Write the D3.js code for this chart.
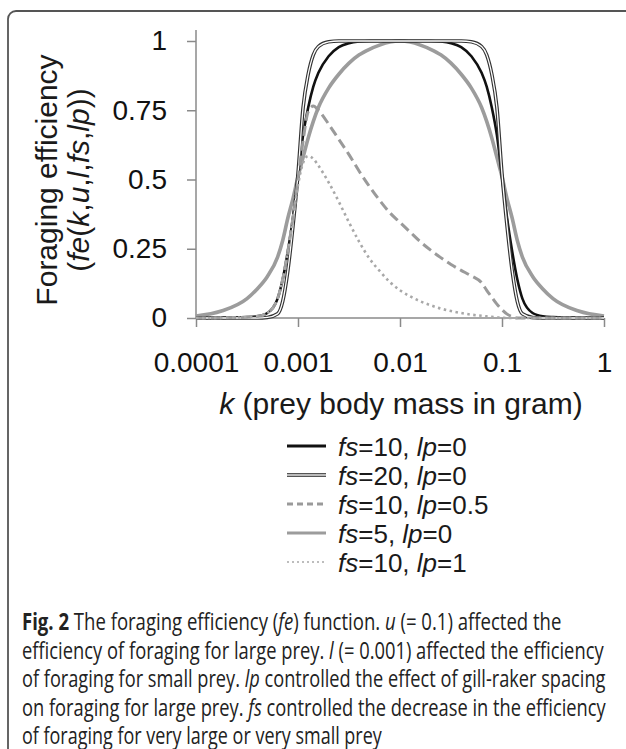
<!DOCTYPE html>
<html>
<head>
<meta charset="utf-8">
<script src="https://cdn.jsdelivr.net/npm/d3@7"></script>
<style>
    body { margin: 0; background: #fff; }
    svg { display: block; }
</style>
</head>
<body>
<div id="chart"></div>
<script>
// log10 of prey body mass k (gram) at which the curves were read
const logK = [-4, -3.75, -3.5, -3.4, -3.3, -3.2, -3.15, -3.1, -3.05, -3, -2.95, -2.9, -2.85, -2.8, -2.7, -2.6,
    -2.5, -2.4, -2.3, -2.2, -2.1, -2, -1.9, -1.8, -1.7, -1.6, -1.5, -1.4, -1.3, -1.2, -1.15, -1.1, -1.05,
    -1, -0.95, -0.9, -0.85, -0.8, -0.7, -0.6, -0.5, -0.25, 0];

// foraging efficiency for each parameter set
const feFs10Lp0 = [0, 0.0005, 0.003, 0.006, 0.018, 0.07, 0.14, 0.24, 0.36, 0.51, 0.66, 0.76, 0.835, 0.885, 0.945, 0.978,
    0.992, 0.998, 1, 1, 1, 1, 1, 1, 1, 0.998, 0.992, 0.978, 0.945, 0.885, 0.835, 0.76, 0.66,
    0.51, 0.36, 0.24, 0.14, 0.07, 0.018, 0.006, 0.003, 0.0005, 0];
const feFs20Lp0 = [0, 0, 0, 0, 0.002, 0.015, 0.06, 0.17, 0.33, 0.52, 0.76, 0.88, 0.95, 0.98, 0.997, 1,
    1, 1, 1, 1, 1, 1, 1, 1, 1, 1, 1, 1, 0.997, 0.98, 0.95, 0.88, 0.76,
    0.52, 0.33, 0.17, 0.06, 0.015, 0.002, 0, 0, 0, 0];
const feFs10Lp05 = [0, 0.0005, 0.003, 0.006, 0.018, 0.07, 0.14, 0.24, 0.36, 0.5, 0.64, 0.745, 0.765, 0.75, 0.7, 0.645,
    0.59, 0.53, 0.475, 0.425, 0.38, 0.345, 0.31, 0.275, 0.245, 0.218, 0.193, 0.172, 0.152, 0.127, 0.1, 0.075, 0.05,
    0.03, 0.014, 0.005, 0, 0, 0, 0, 0, 0, 0];
const feFs5Lp0 = [0.007, 0.025, 0.07, 0.105, 0.15, 0.22, 0.28, 0.36, 0.43, 0.51, 0.58, 0.65, 0.71, 0.76, 0.83, 0.88,
    0.92, 0.95, 0.97, 0.985, 0.996, 1, 0.996, 0.985, 0.97, 0.95, 0.92, 0.88, 0.83, 0.76, 0.71, 0.65, 0.58,
    0.51, 0.43, 0.36, 0.28, 0.22, 0.15, 0.105, 0.07, 0.025, 0.007];
const feFs10Lp1 = [0, 0.0005, 0.003, 0.006, 0.018, 0.07, 0.14, 0.24, 0.36, 0.48, 0.56, 0.585, 0.575, 0.55, 0.49, 0.42,
    0.345, 0.275, 0.215, 0.17, 0.13, 0.1, 0.078, 0.06, 0.046, 0.034, 0.025, 0.018, 0.012, 0.008, 0.006, 0.004, 0.002,
    0.001, 0, 0, 0, 0, 0, 0, 0, 0, 0];

// legend parameters, same order as the series
const legendFs = ['10', '20', '10', '5', '10'];
const legendLp = ['0', '0', '0.5', '0', '1'];

// axis ticks
const xTicks = [0.0001, 0.001, 0.01, 0.1, 1];
const xTickLabels = ['0.0001', '0.001', '0.01', '0.1', '1'];
const yTicks = [0, 0.25, 0.5, 0.75, 1];
const yTickLabels = ['0', '0.25', '0.5', '0.75', '1'];

// line styles
const styles = [
    { values: feFs10Lp0, color: '#111', width: 2.6 },
    { values: feFs20Lp0, color: '#333', width: 3.6, inner: '#fff', innerWidth: 1.3 },
    { values: feFs10Lp05, color: '#9a9a9a', width: 3, dash: '10,5' },
    { values: feFs5Lp0, color: '#9c9c9c', width: 3.6 },
    { values: feFs10Lp1, color: '#a8a8a8', width: 2.6, dash: '2.5,3.5' }
];
// order in which lines are drawn (gray fs=5 underneath)
const drawOrder = [3, 0, 1, 2, 4];

const W = 626, H = 749;
const font = '"Liberation Sans", Arial, sans-serif';

const svg = d3.select('#chart').append('svg')
    .attr('width', W)
    .attr('height', H)
    .style('font-family', font);

// frame around the figure
svg.append('rect')
    .attr('x', 8).attr('y', 11)
    .attr('width', 660).attr('height', 800)
    .attr('rx', 8)
    .attr('fill', 'none')
    .attr('stroke', '#555')
    .attr('stroke-width', 1.8);

// scales
const x = d3.scaleLog().domain([0.0001, 1]).range([196, 604]);
const y = d3.scaleLinear().domain([0, 1]).range([318, 41]);

// axes
const axisColor = '#8a8a8a';
const xAxis = svg.append('g')
    .attr('transform', 'translate(0,318)')
    .call(d3.axisBottom(x).tickValues(xTicks).tickFormat((d, i) => xTickLabels[i]).tickSize(9).tickPadding(25));
const yAxis = svg.append('g')
    .attr('transform', 'translate(196,0)')
    .call(d3.axisLeft(y).tickValues(yTicks).tickFormat((d, i) => yTickLabels[i]).tickSize(9).tickPadding(20));

[xAxis, yAxis].forEach(g => {
    g.select('.domain').remove();
    g.selectAll('line').attr('stroke', axisColor).attr('stroke-width', 1.5);
    g.selectAll('text').attr('fill', '#111').style('font-family', font).style('font-size', '28px');
});

svg.append('line')
    .attr('x1', 196).attr('x2', 196).attr('y1', 30).attr('y2', 318)
    .attr('stroke', axisColor).attr('stroke-width', 1.5);
svg.append('line')
    .attr('x1', 196).attr('x2', 604).attr('y1', 318).attr('y2', 318)
    .attr('stroke', axisColor).attr('stroke-width', 1.5);

// curves
const line = d3.line()
    .x((d, i) => x(Math.pow(10, logK[i])))
    .y(d => y(d))
    .curve(d3.curveMonotoneX);

drawOrder.forEach(idx => {
    const s = styles[idx];
    const p = svg.append('path')
        .datum(s.values)
        .attr('fill', 'none')
        .attr('stroke', s.color)
        .attr('stroke-width', s.width)
        .attr('stroke-linecap', 'butt')
        .attr('d', line);
    if (s.dash) p.attr('stroke-dasharray', s.dash);
    if (s.inner) {
        svg.append('path')
            .datum(s.values)
            .attr('fill', 'none')
            .attr('stroke', s.inner)
            .attr('stroke-width', s.innerWidth)
            .attr('d', line);
    }
});

// y axis title
const yTitle = svg.append('g')
    .attr('transform', 'translate(0,180) rotate(-90)')
    .style('font-size', '30px')
    .attr('fill', '#1a1a1a')
    .attr('text-anchor', 'middle');
yTitle.append('text').attr('y', 57).text('Foraging efficiency');
const yt2 = yTitle.append('text').attr('y', 89);
[['(', false], ['fe', true], ['(', false], ['k', true], [',', false], ['u', true], [',', false],
 ['l', true], [',', false], ['fs', true], [',', false], ['lp', true], ['))', false]].forEach(([t, it]) => {
    yt2.append('tspan').text(t).style('font-style', it ? 'italic' : 'normal');
});

// x axis title
const xTitle = svg.append('text')
    .attr('x', 401).attr('y', 414)
    .attr('text-anchor', 'middle')
    .attr('fill', '#1a1a1a')
    .style('font-size', '30px');
xTitle.append('tspan').text('k').style('font-style', 'italic');
xTitle.append('tspan').text(' (prey body mass in gram)');

// legend
const legend = svg.append('g');
styles.forEach((s, i) => {
    const cy = 446 + i * 29;
    const g = legend.append('g').attr('transform', `translate(0,${cy})`);
    const l = g.append('line')
        .attr('x1', 287).attr('x2', 326)
        .attr('stroke', s.inner ? '#555' : s.color)
        .attr('stroke-width', s.inner ? 4 : (s.dash && s.dash.startsWith('2.5') ? 1.6 : 3));
    if (s.dash) l.attr('stroke-dasharray', s.dash.startsWith('2.5') ? '2,3' : '6,4');
    if (s.inner) {
        g.append('line').attr('x1', 287).attr('x2', 326)
            .attr('stroke', '#ddd').attr('stroke-width', 1.6);
    }
    const t = g.append('text')
        .attr('x', 338).attr('y', 9.5)
        .attr('fill', '#1a1a1a')
        .style('font-size', '26px');
    t.append('tspan').text('fs').style('font-style', 'italic');
    t.append('tspan').text('=' + legendFs[i] + ', ');
    t.append('tspan').text('lp').style('font-style', 'italic');
    t.append('tspan').text('=' + legendLp[i]);
});

// caption
const captionLines = [
    [['Fig. 2', 'b'], [' The foraging efficiency (', ''], ['fe', 'i'], [') function. ', ''], ['u', 'i'], [' (= 0.1) affected the', '']],
    [['efficiency of foraging for large prey. ', ''], ['l', 'i'], [' (= 0.001) affected the efficiency', '']],
    [['of foraging for small prey. ', ''], ['lp', 'i'], [' controlled the effect of gill-raker spacing', '']],
    [['on foraging for large prey. ', ''], ['fs', 'i'], [' controlled the decrease in the efficiency', '']],
    [['of foraging for very large or very small prey', '']]
];
const captionWidths = [540, 582, 584, 584, 360];

const caption = svg.append('g')
    .style('font-family', '"Open Sans", "Noto Sans", sans-serif')
    .attr('fill', '#222');
captionLines.forEach((parts, i) => {
    const t = caption.append('text')
        .attr('x', 0).attr('y', 0)
        .style('font-size', '23px');
    parts.forEach(([txt, st]) => {
        const sp = t.append('tspan').text(txt);
        if (st === 'b') sp.style('font-weight', 'bold');
        if (st === 'i') sp.style('font-style', 'italic');
    });
    // squeeze horizontally to the line width of the original typesetting
    const natural = t.node().getComputedTextLength();
    t.attr('transform', `translate(22,${630 + i * 28.6}) scale(${captionWidths[i] / natural},1)`);
});
</script>
</body>
</html>
